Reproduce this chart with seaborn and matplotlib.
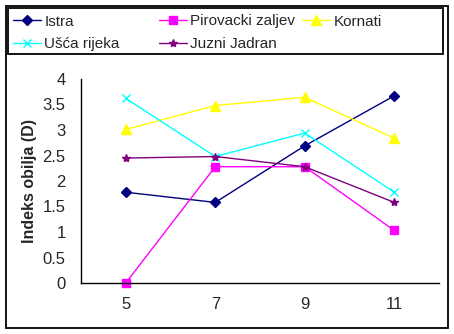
import matplotlib
matplotlib.use("Agg")
import matplotlib.pyplot as plt
from matplotlib.patches import Rectangle
import seaborn as sns
import pandas as pd

sns.set_style("white")
plt.rcParams['font.family'] = ['Liberation Sans', 'DejaVu Sans']

x_vals = [5, 7, 9, 11]
series_names = ["Istra", "Pirovacki zaljev", "Kornati", "Ušća rijeka", "Juzni Jadran"]
istra = [1.78, 1.58, 2.69, 3.67]
pirovacki = [0.0, 2.28, 2.28, 1.03]
kornati = [3.01, 3.48, 3.64, 2.84]
usca = [3.62, 2.48, 2.94, 1.78]
juzni = [2.45, 2.48, 2.28, 1.58]
yticks = [0, 0.5, 1, 1.5, 2, 2.5, 3, 3.5, 4]
ylabels = ["0", "0.5", "1", "1.5", "2", "2.5", "3", "3.5", "4"]

values = [istra, pirovacki, kornati, usca, juzni]
colors = ["#000080", "#FF00FF", "#FFFF00", "#00FFFF", "#800080"]
markers = ["D", "s", "^", "x", "*"]
msizes = [5, 6, 7, 6, 6]

rows = []
for name, vals in zip(series_names, values):
    for xv, yv in zip(x_vals, vals):
        rows.append({"x": xv, "y": yv, "series": name})
df = pd.DataFrame(rows)

W, H = 454, 334
fig = plt.figure(figsize=(W/100, H/100), dpi=100)
ax = fig.add_axes([81/W, 51/H, (439-81)/W, (283-79)/H])

for name, c, m, ms in zip(series_names, colors, markers, msizes):
    sub = df[df["series"] == name]
    sns.lineplot(data=sub, x="x", y="y", ax=ax, color=c, marker=m, markersize=ms,
                 markeredgecolor=c, markerfacecolor=c, markeredgewidth=1.0,
                 linewidth=1.0, label=name, legend=False, clip_on=False)

ax.set_xlim(4, 12)
ax.set_ylim(0, 4)
ax.set_xticks([4, 6, 8, 10, 12])
ax.set_xticklabels([])
ax.set_xticks(x_vals, minor=True)
ax.set_xticklabels([str(v) for v in x_vals], minor=True)
ax.tick_params(axis="x", which="major", length=5, width=1, direction="out", color="black")
ax.tick_params(axis="x", which="minor", length=0, pad=10, labelsize=12)
ax.set_yticks(yticks)
ax.set_yticklabels(ylabels)
ax.tick_params(axis="y", length=5, width=1, direction="out", color="black", labelsize=12, pad=6)
ax.set_xlabel("")
ax.set_ylabel("Indeks obilja (D)", fontsize=11.5, fontweight="bold", labelpad=4)
for s in ["top", "right"]:
    ax.spines[s].set_visible(False)
for s in ["left", "bottom"]:
    ax.spines[s].set_color("black")
    ax.spines[s].set_linewidth(1.0)

handles, labels = ax.get_legend_handles_labels()
hmap = dict(zip(labels, handles))
# legend columns as in the reference (row-major reading)
legend_cols = [["Istra", "Ušća rijeka"], ["Pirovacki zaljev", "Juzni Jadran"], ["Kornati"]]
col_x = [13, 159, 302]
for names, xpx in zip(legend_cols, col_x):
    fig.legend([hmap[n] for n in names], names, loc="upper left",
               bbox_to_anchor=(xpx/W, 1 - 14.5/H), ncol=1, fontsize=11, frameon=False,
               handlelength=1.8, handletextpad=0.25, borderaxespad=0, labelspacing=0.55,
               borderpad=0)

fig.patches.append(Rectangle((8/W, 1 - 54/H), (443-8)/W, (54-8)/H, transform=fig.transFigure,
                             fill=False, edgecolor="black", linewidth=1.3))
fig.patches.append(Rectangle((6/W, 6/H), (448-6)/W, (328-6)/H, transform=fig.transFigure,
                             fill=False, edgecolor="black", linewidth=1.3))

fig.savefig("out.png", dpi=100)
